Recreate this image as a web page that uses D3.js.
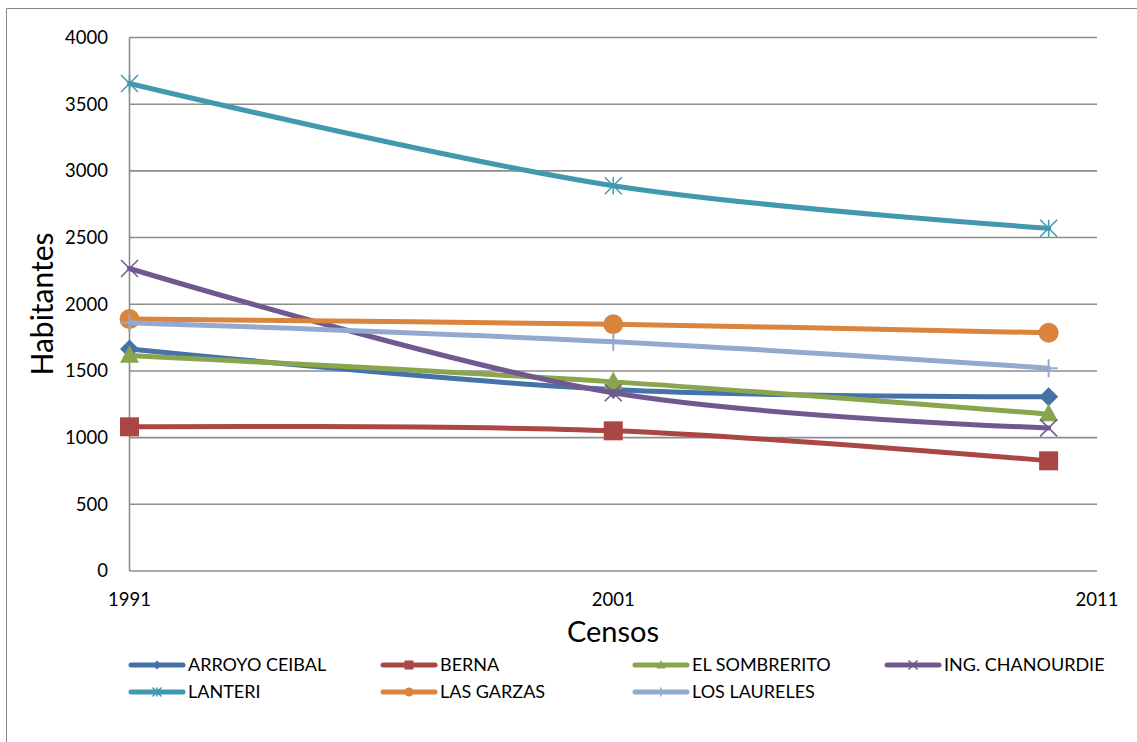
<!DOCTYPE html>
<html>
<head>
<meta charset="utf-8">
<script src="https://cdn.jsdelivr.net/npm/d3@7"></script>
<style>
  html, body { margin: 0; padding: 0; background: #fff; }
  svg { display: block; font-family: Lato, "Liberation Sans", sans-serif; }
</style>
</head>
<body>
<svg id="chart" width="1137" height="742"></svg>
<script>
// Census years (the last census was held in 2010)
const years = [1991, 2001, 2010];
const xTicks = [1991, 2001, 2011];
const yTicks = [0, 500, 1000, 1500, 2000, 2500, 3000, 3500, 4000];

const seriesNames = ["ARROYO CEIBAL", "BERNA", "EL SOMBRERITO", "ING. CHANOURDIE",
                     "LANTERI", "LAS GARZAS", "LOS LAURELES"];
const arroyoCeibal  = [1665, 1360, 1306];
const berna         = [1081, 1051, 826];
const elSombrerito  = [1615, 1418, 1176];
const ingChanourdie = [2268, 1336, 1073];
const lanteri       = [3655, 2889, 2570];
const lasGarzas     = [1889, 1850, 1786];
const losLaureles   = [1862, 1719, 1521];
const seriesValues = [arroyoCeibal, berna, elSombrerito, ingChanourdie, lanteri, lasGarzas, losLaureles];

const colors  = ["#4572A7", "#AA4643", "#89A54E", "#71588F", "#4198AF", "#DB843D", "#93A9CF"];
const markers = ["diamond", "square", "triangle", "x", "star", "circle", "plus"];

const svg = d3.select("#chart");
const W = 1137, H = 742;

// outer chart frame (continues past the right and bottom edges)
svg.append("path")
  .attr("d", `M6.5,${H + 2}V8.5H${W + 2}`)
  .attr("fill", "none").attr("stroke", "#8a8a8a").attr("stroke-width", 1);

const x = d3.scaleLinear().domain([1991, 2011]).range([129.5, 1097]);
const y = d3.scaleLinear().domain([0, 4000]).range([571, 37.5]);

// horizontal gridlines
svg.append("g").selectAll("line").data(yTicks).join("line")
  .attr("x1", x(1991)).attr("x2", x(2011))
  .attr("y1", d => y(d)).attr("y2", d => y(d))
  .attr("stroke", "#8c8c8c").attr("stroke-width", 1.6);

// vertical axis line
svg.append("line")
  .attr("x1", x(1991)).attr("x2", x(1991))
  .attr("y1", y(4000)).attr("y2", y(0))
  .attr("stroke", "#8c8c8c").attr("stroke-width", 1.6);

// y tick labels
svg.append("g").selectAll("text").data(yTicks).join("text")
  .attr("x", 108).attr("y", d => y(d)).attr("dy", "0.35em")
  .attr("text-anchor", "end").attr("font-size", 18.5).attr("fill", "#000")
  .text(d => d);

// x tick labels
svg.append("g").selectAll("text").data(xTicks).join("text")
  .attr("x", d => x(d)).attr("y", 600).attr("dy", "0.35em")
  .attr("text-anchor", "middle").attr("font-size", 18.5).attr("fill", "#000")
  .text(d => d);

// axis titles
svg.append("text")
  .attr("transform", `translate(53,304) rotate(-90)`)
  .attr("text-anchor", "middle").attr("font-size", 30).text("Habitantes");
svg.append("text")
  .attr("x", 613).attr("y", 642)
  .attr("text-anchor", "middle").attr("font-size", 29).text("Censos");

// marker shapes
function markerPath(type, s) {
  const r = s / 2;
  switch (type) {
    case "diamond": return `M0,${-r}L${r},0L0,${r}L${-r},0Z`;
    case "square": return `M${-r},${-r}H${r}V${r}H${-r}Z`;
    case "triangle": return `M0,${-r * 1.1}L${r},${r * 0.75}L${-r},${r * 0.75}Z`;
    case "circle": return d3.arc()({innerRadius: 0, outerRadius: r, startAngle: 0, endAngle: 2 * Math.PI});
    case "x": return `M${-r},${-r}L${r},${r}M${-r},${r}L${r},${-r}`;
    case "star": return `M${-r},${-r}L${r},${r}M${-r},${r}L${r},${-r}M0,${-r}V${r}`;
    case "plus": return `M0,${-r}V${r}M${-r},0H${r}`;
  }
}
const isStroke = t => t === "x" || t === "star" || t === "plus";

const line = d3.line()
  .x((d, i) => x(years[i]))
  .y(d => y(d))
  .curve(d3.curveCatmullRom.alpha(0.5));

seriesValues.forEach((vals, k) => {
  const g = svg.append("g");
  g.append("path")
    .attr("d", line(vals))
    .attr("fill", "none").attr("stroke", colors[k])
    .attr("stroke-width", 5).attr("stroke-linecap", "round").attr("stroke-linejoin", "round");
  const size = { diamond: 19, square: 19, triangle: 19, circle: 20, x: 17, star: 17, plus: 18 }[markers[k]];
  g.selectAll("path.m").data(vals).join("path")
    .attr("class", "m")
    .attr("transform", (d, i) => `translate(${x(years[i])},${y(d)})`)
    .attr("d", markerPath(markers[k], size))
    .attr("fill", isStroke(markers[k]) ? "none" : colors[k])
    .attr("stroke", colors[k])
    .attr("stroke-width", isStroke(markers[k]) ? (markers[k] === "plus" ? 2 : 1.5) : 0);
});

// legend
const legendCols = [129, 381, 633, 885];
const legendRows = [665, 692];
seriesNames.forEach((name, k) => {
  const cx = legendCols[k % 4], cy = legendRows[Math.floor(k / 4)];
  const g = svg.append("g").attr("transform", `translate(${cx},${cy})`);
  g.append("line").attr("x1", 2).attr("x2", 54).attr("y1", 0).attr("y2", 0)
    .attr("stroke", colors[k]).attr("stroke-width", 5).attr("stroke-linecap", "round");
  g.append("path").attr("transform", "translate(28,0)")
    .attr("d", markerPath(markers[k], 9))
    .attr("fill", isStroke(markers[k]) ? "none" : colors[k])
    .attr("stroke", colors[k])
    .attr("stroke-width", isStroke(markers[k]) ? 1.5 : 0);
  g.append("text").attr("x", 59).attr("y", 0).attr("dy", "0.35em")
    .attr("font-size", 18).attr("fill", "#000").text(name);
});
</script>
</body>
</html>
